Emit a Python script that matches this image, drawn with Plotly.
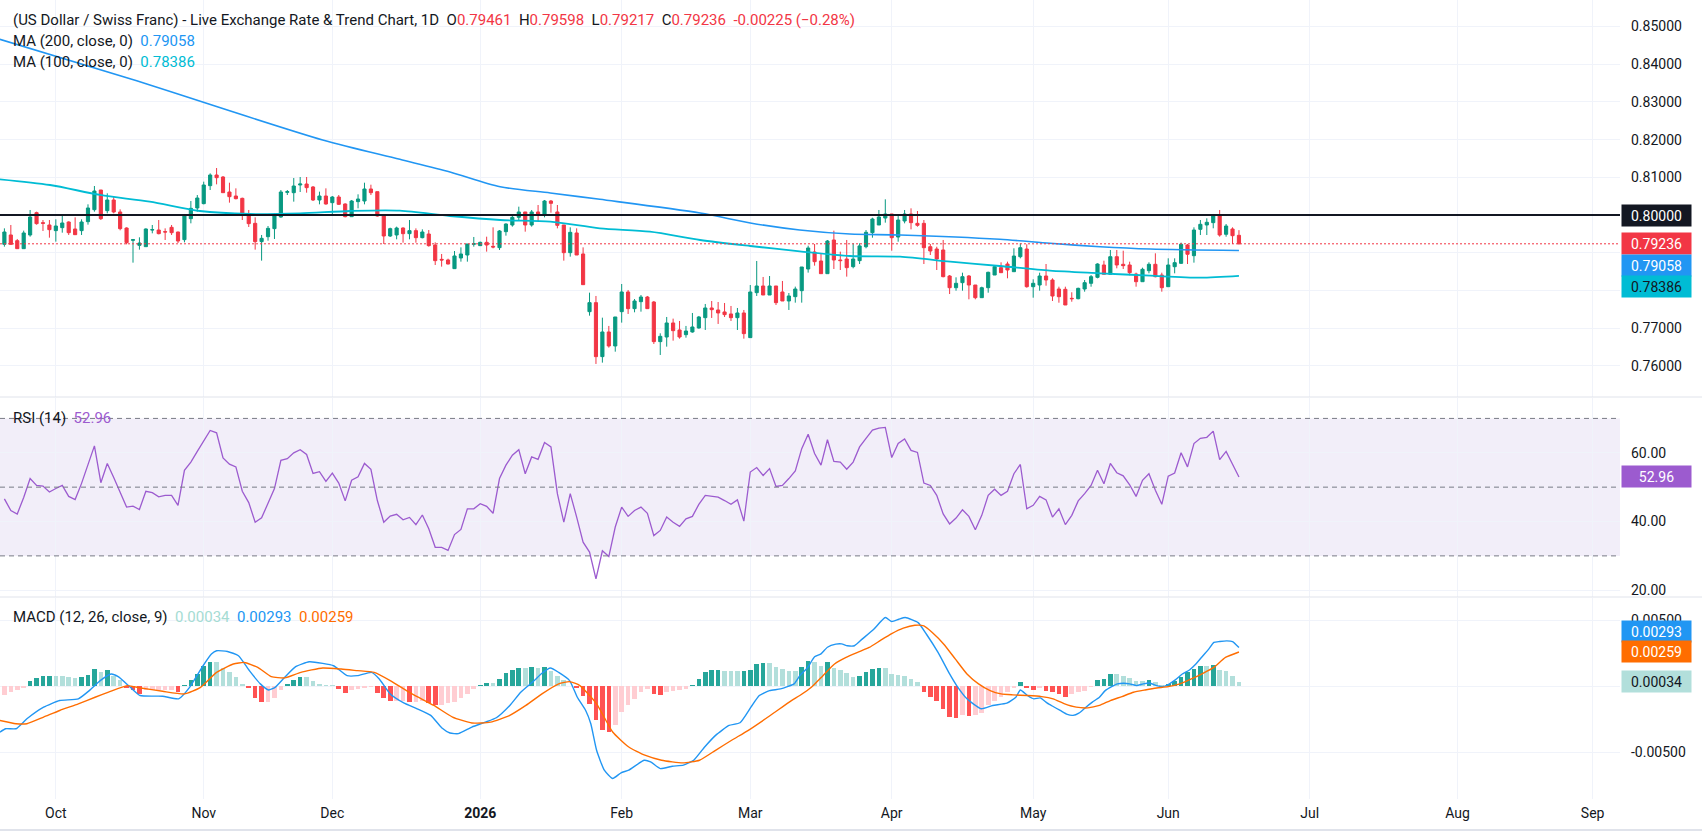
import plotly.graph_objects as go
import pandas as pd

# ---------------- data ----------------
open_ = [0.79222,0.79470,0.79319,0.79107,0.79470,0.80062,0.79797,0.79735,0.79585,0.79664,
 0.79814,0.79629,0.79585,0.79823,0.80141,0.80663,0.80115,0.80398,0.80080,0.79655,
 0.79328,0.79196,0.79160,0.79602,0.79602,0.79558,0.79673,0.79549,0.79346,0.79903,
 0.80186,0.80301,0.80778,0.81061,0.81008,0.80610,0.80504,0.80442,0.80027,0.79779,
 0.79293,0.79425,0.79638,0.79947,0.80601,0.80592,0.80796,0.80822,0.80743,0.80398,
 0.80504,0.80327,0.80477,0.80292,0.79956,0.80354,0.80371,0.80690,0.80619,0.80009,
 0.79443,0.79470,0.79655,0.79505,0.79585,0.79399,0.79496,0.79204,0.78824,0.78807,
 0.78577,0.78860,0.78939,0.79222,0.79187,0.79275,0.79169,0.79134,0.79558,0.79735,
 0.79938,0.80080,0.79735,0.80080,0.80000,0.80371,0.80080,0.79735,0.79001,0.79523,
 0.78966,0.77436,0.77675,0.76243,0.76897,0.76526,0.77436,0.77958,0.77516,0.77701,
 0.77825,0.77692,0.76641,0.76764,0.77136,0.76950,0.76826,0.76897,0.77003,0.77277,
 0.77534,0.77481,0.77428,0.77375,0.77277,0.77401,0.76747,0.77940,0.78117,0.77878,
 0.78117,0.77958,0.77719,0.77834,0.77993,0.78568,0.79019,0.78780,0.78444,0.79337,
 0.78807,0.78833,0.78630,0.78789,0.79159,0.79531,0.79735,0.79920,0.80027,0.79416,
 0.79841,0.80027,0.79779,0.79779,0.79159,0.79098,0.79072,0.78382,0.78072,0.78205,
 0.78382,0.78143,0.77807,0.78072,0.78408,0.78603,0.78700,0.78496,0.78894,0.79098,
 0.78098,0.78143,0.78382,0.78276,0.78037,0.78029,0.77790,0.77780,0.78037,0.78188,
 0.78347,0.78674,0.78427,0.78894,0.78692,0.78674,0.78435,0.78231,0.78523,0.78692,
 0.78408,0.78098,0.78629,0.78718,0.79204,0.78921,0.79620,0.79735,0.79797,0.79973,
 0.79488,0.79629,0.79461]
high_ = [0.79646,0.79735,0.79364,0.79585,0.80133,0.80088,0.79867,0.79867,0.79885,0.80000,
 0.79832,0.79938,0.79885,0.80283,0.80769,0.80663,0.80575,0.80504,0.80150,0.79673,
 0.79364,0.79408,0.79646,0.79735,0.79867,0.79646,0.79735,0.79558,0.80027,0.80371,
 0.80530,0.80884,0.81105,0.81246,0.81034,0.80857,0.80707,0.80460,0.80133,0.79938,
 0.79470,0.79708,0.80044,0.80663,0.80663,0.80981,0.81008,0.81008,0.80769,0.80619,
 0.80707,0.80504,0.80530,0.80309,0.80398,0.80548,0.80857,0.80804,0.80619,0.80027,
 0.79664,0.79691,0.79673,0.79867,0.79646,0.79620,0.79602,0.79275,0.78966,0.78842,
 0.79045,0.79142,0.79231,0.79417,0.79293,0.79425,0.79673,0.79602,0.79779,0.80000,
 0.80221,0.80080,0.80133,0.80265,0.80398,0.80398,0.80265,0.79735,0.79673,0.79646,
 0.79142,0.77940,0.77852,0.77277,0.77057,0.77295,0.78170,0.78011,0.77772,0.77878,
 0.77852,0.77719,0.76862,0.77295,0.77251,0.77189,0.77057,0.77401,0.77322,0.77640,
 0.77719,0.77692,0.77666,0.77587,0.77534,0.77481,0.78143,0.78780,0.78356,0.78382,
 0.78117,0.78250,0.77931,0.78100,0.78621,0.79187,0.79231,0.78983,0.79337,0.79584,
 0.79028,0.79337,0.79249,0.79249,0.79602,0.79928,0.80133,0.80416,0.80027,0.80000,
 0.80133,0.80177,0.80106,0.79867,0.79231,0.79159,0.79337,0.78408,0.78347,0.78470,
 0.78408,0.78143,0.78098,0.78496,0.78666,0.78745,0.78762,0.79117,0.79249,0.79223,
 0.78294,0.78470,0.78700,0.78321,0.78098,0.78098,0.77950,0.78072,0.78276,0.78408,
 0.78718,0.78788,0.79072,0.79072,0.79053,0.78762,0.78470,0.78603,0.78745,0.78984,
 0.78470,0.78851,0.78851,0.79266,0.79231,0.79673,0.79867,0.79912,0.80027,0.80133,
 0.79761,0.79673,0.79598]
low_ = [0.79160,0.79204,0.79107,0.79107,0.79425,0.79744,0.79576,0.79399,0.79293,0.79531,
 0.79470,0.79470,0.79470,0.79744,0.80088,0.79867,0.80044,0.80044,0.79593,0.79222,
 0.78736,0.79081,0.79160,0.79514,0.79487,0.79337,0.79470,0.79257,0.79275,0.79779,
 0.80088,0.80283,0.80663,0.80813,0.80592,0.80327,0.80415,0.79867,0.79682,0.79081,
 0.78789,0.79319,0.79364,0.79929,0.80530,0.80354,0.80610,0.80592,0.80371,0.80283,
 0.80274,0.79973,0.80265,0.79938,0.79947,0.80177,0.80283,0.80530,0.79956,0.79231,
 0.79417,0.79355,0.79266,0.79355,0.79266,0.79381,0.79160,0.78674,0.78630,0.78691,
 0.78568,0.78762,0.78762,0.79160,0.79187,0.79028,0.79116,0.79072,0.79452,0.79691,
 0.79867,0.79558,0.79691,0.79841,0.79938,0.80062,0.79646,0.78789,0.78895,0.78939,
 0.78144,0.77330,0.76049,0.76084,0.76482,0.76375,0.77145,0.77375,0.77419,0.77436,
 0.77516,0.76579,0.76287,0.76508,0.76667,0.76720,0.76746,0.76879,0.76986,0.76950,
 0.77269,0.77110,0.77295,0.77189,0.76950,0.76720,0.76747,0.77852,0.77878,0.77878,
 0.77613,0.77719,0.77481,0.77675,0.77675,0.78471,0.78656,0.78444,0.78444,0.78568,
 0.78541,0.78365,0.78586,0.78700,0.79117,0.79398,0.79735,0.79797,0.79053,0.79292,
 0.79779,0.79620,0.79690,0.78700,0.78939,0.78541,0.78347,0.77904,0.77992,0.77992,
 0.77764,0.77764,0.77807,0.77939,0.78408,0.78470,0.78321,0.78496,0.78851,0.78072,
 0.77807,0.77992,0.78125,0.77719,0.77674,0.77613,0.77700,0.77764,0.77966,0.78098,
 0.78321,0.78427,0.78427,0.78586,0.78568,0.78400,0.78098,0.78231,0.78453,0.78347,
 0.77966,0.78098,0.78453,0.78700,0.78700,0.78736,0.79469,0.79469,0.79647,0.79425,
 0.79425,0.79231,0.79217]
close_ = [0.79549,0.79222,0.79107,0.79523,0.79947,0.79770,0.79779,0.79611,0.79708,0.79788,
 0.79531,0.79478,0.79814,0.80186,0.80636,0.79903,0.80398,0.80080,0.79638,0.79266,
 0.79346,0.79257,0.79629,0.79611,0.79505,0.79549,0.79531,0.79310,0.80000,0.80177,
 0.80451,0.80796,0.81061,0.80990,0.80592,0.80486,0.80433,0.80000,0.79770,0.79293,
 0.79381,0.79646,0.79982,0.80610,0.80619,0.80769,0.80822,0.80725,0.80398,0.80504,
 0.80292,0.80477,0.80283,0.79956,0.80371,0.80424,0.80690,0.80592,0.79973,0.79443,
 0.79638,0.79655,0.79505,0.79585,0.79399,0.79549,0.79187,0.78789,0.78807,0.78700,
 0.78913,0.78966,0.79231,0.79240,0.79275,0.79204,0.79151,0.79576,0.79761,0.79938,
 0.80080,0.79735,0.80080,0.80000,0.80371,0.80309,0.79726,0.79001,0.79540,0.78939,
 0.78152,0.77675,0.76243,0.76897,0.76526,0.77295,0.77958,0.77516,0.77719,0.77825,
 0.77516,0.76641,0.76782,0.77136,0.76932,0.76764,0.76923,0.77030,0.77295,0.77534,
 0.77489,0.77401,0.77357,0.77277,0.77401,0.76853,0.77958,0.78117,0.77878,0.78117,
 0.77675,0.77719,0.77852,0.78037,0.78621,0.79125,0.78762,0.78444,0.79310,0.78806,
 0.78790,0.78603,0.78833,0.79180,0.79541,0.79894,0.79947,0.80027,0.79398,0.79867,
 0.80027,0.79797,0.79727,0.79133,0.79045,0.78833,0.78364,0.78072,0.78188,0.78364,
 0.78143,0.77807,0.78072,0.78480,0.78629,0.78470,0.78541,0.78912,0.79133,0.78098,
 0.78188,0.78382,0.78276,0.77851,0.77833,0.77613,0.77780,0.78055,0.78205,0.78364,
 0.78700,0.78427,0.78894,0.78674,0.78656,0.78470,0.78231,0.78560,0.78692,0.78364,
 0.78072,0.78674,0.78736,0.79223,0.78958,0.79602,0.79753,0.79806,0.79973,0.79469,
 0.79708,0.79451,0.79236]

first_bar_date = "2025-09-19"
tick_dates = ["2025-10-01","2025-11-03","2025-12-01","2026-01-01","2026-02-02","2026-03-02",
              "2026-04-01","2026-05-01","2026-06-01","2026-07-01","2026-08-03","2026-09-01"]
tick_labels = ["Oct","Nov","Dec","<b>2026</b>","Feb","Mar","Apr","May","Jun","Jul","Aug","Sep"]

ma200_idx = [-0.7,19.8,49.5,61.5,69.3,77.1,84.9,92.6,108.2,116.0,123.7,131.5,139.3,154.8,162.6,170.4,178.2,192]
ma200_val = [0.84660,0.83599,0.81989,0.81477,0.81141,0.80751,0.80584,0.80416,0.80053,0.79788,
             0.79602,0.79496,0.79469,0.79355,0.79249,0.79159,0.79098,0.79058]
ma100_idx = [-0.7,7.1,14.9,22.6,30.4,38.2,46.0,53.8,61.5,69.3,77.1,84.9,92.6,100.4,108.2,116.0,
             123.7,131.5,139.3,147.1,154.8,162.6,170.4,178.2,186.0,192]
ma100_val = [0.80947,0.80796,0.80531,0.80353,0.80106,0.80027,0.80045,0.80106,0.80114,0.79973,
             0.79867,0.79822,0.79647,0.79557,0.79337,0.79178,0.79037,0.78912,0.78894,0.78761,
             0.78647,0.78523,0.78454,0.78390,0.78337,0.78386]

rsi_val = [46.6,43.2,42.2,47.0,52.5,50.5,50.3,48.6,49.6,50.5,47.3,46.4,51.1,56.3,62.0,51.3,56.9,52.8,48.7,44.2,
 44.5,43.5,48.8,48.4,47.2,47.6,47.6,44.7,54.9,57.3,60.4,63.5,66.5,65.8,58.5,56.7,55.9,48.8,45.5,39.8,
 41.1,45.3,49.6,57.8,58.3,60.0,60.9,59.5,54.0,54.5,51.7,54.1,51.2,46.0,52.0,53.0,56.9,55.2,46.1,39.8,
 41.6,42.1,40.5,41.2,39.1,41.9,37.9,32.5,32.5,31.6,36.2,37.7,43.7,43.7,45.2,44.4,42.4,52.5,56.4,59.3,
 60.9,53.9,58.8,58.1,63.0,61.7,48.1,39.8,48.1,41.3,34.0,31.1,23.3,31.5,29.8,38.4,44.2,41.5,43.2,44.2,
 42.4,35.9,37.4,41.3,39.8,38.6,40.8,41.5,45.0,47.6,47.3,47.1,46.1,45.0,46.3,40.1,54.4,55.7,53.4,55.4,
 50.2,50.5,52.5,54.7,61.2,65.4,59.8,56.4,63.8,57.5,57.3,55.2,57.3,61.7,64.2,66.6,67.2,67.4,58.6,62.7,
 64.0,60.7,60.1,51.2,50.5,47.6,42.2,39.3,41.0,43.4,41.5,37.6,41.8,47.6,49.4,47.6,48.8,53.9,56.6,43.7,
 44.7,47.3,46.3,41.3,43.7,39.1,41.8,46.0,48.1,50.5,54.9,51.0,56.9,54.2,53.3,50.7,47.3,52.0,53.9,49.1,
 45.0,53.2,54.1,60.0,55.9,62.7,64.2,64.5,66.3,58.0,60.4,56.9,52.96]

macd_idx = [-0.7,0.2,1.8,3.5,6.1,8.6,11.5,13.2,14.9,16.6,17.7,19.6,21.1,24.6,27.1,28.8,30.9,32.2,33.0,34.7,
 36.4,38.1,39.8,41.1,42.1,43.6,45.3,47.4,49.5,51.2,53.3,54.9,57.1,58.3,60.0,62.1,64.2,66.3,68.0,69.3,
 70.6,72.7,74.8,76.5,78.6,80.3,82.4,83.6,84.9,86.2,87.9,89.1,90.4,91.2,92.1,93.3,94.6,95.9,97.1,99.5,
 100.5,102.0,103.9,105.6,107.2,108.9,110.6,112.7,114.4,116.1,117.4,119.0,120.7,122.8,123.7,124.9,126.0,127.0,128.0,129.3,
 130.2,131.1,132.2,133.4,135.2,137.0,138.0,139.1,140.1,142.1,143.4,145.2,147.0,148.1,149.7,151.9,153.7,155.9,157.3,158.0,
 159.1,160.1,161.1,162.2,163.1,164.2,165.3,166.2,167.1,168.2,169.2,170.3,171.2,172.2,173.1,174.1,175.0,176.1,177.1,178.1,
 179.2,180.1,181.0,182.1,183.2,184.3,185.3,186.4,187.3,188.1,189.0,190.1,191.0,192.0]
macd_val = [-0.00346,-0.00321,-0.00321,-0.00246,-0.00158,-0.00108,-0.00095,-0.00033,0.00043,0.00093,0.00073,-0.00008,-0.0007,-0.00075,-0.00095,-0.00008,0.00155,0.00243,0.00268,0.00263,
 0.00231,0.00118,0.00018,-0.00028,-0.00008,0.00068,0.00148,0.00185,0.00173,0.00155,0.0008,0.0008,0.00105,0.00055,-0.00058,-0.00125,-0.0017,-0.0022,-0.00313,-0.00353,
 -0.00358,-0.00308,-0.00271,-0.00238,-0.00145,-0.00045,0.00043,0.00098,0.00138,0.00105,0.00043,-0.00083,-0.00183,-0.00283,-0.00484,-0.00634,-0.00697,-0.00654,-0.00634,-0.00559,
 -0.00571,-0.00622,-0.00604,-0.00596,-0.00559,-0.00459,-0.00371,-0.00296,-0.00276,-0.00158,-0.0007,-0.00033,-0.0002,0.00018,0.0008,0.0014,0.00223,0.00245,0.00295,0.00318,
 0.0032,0.00306,0.00306,0.00356,0.00431,0.00519,0.00489,0.00506,0.00519,0.00481,0.00393,0.00256,0.00093,0.00005,-0.00095,-0.0017,-0.00145,-0.00128,-0.00083,-0.00028,
 -0.0007,-0.00095,-0.00088,-0.00128,-0.00153,-0.00183,-0.00213,-0.0022,-0.00203,-0.00158,-0.0012,-0.00083,-0.00033,-0.00003,0.00018,0.00023,0.00018,0.00005,0.00018,0.00025,
 0.00005,-0.00003,0.00013,0.00048,0.00093,0.00123,0.00168,0.00231,0.00281,0.00331,0.00338,0.00343,0.00338,0.00293]
signal_idx = [-0.7,1.8,3.5,6.1,8.6,11.5,14.1,16.2,19.1,21.2,24.6,28.0,30.5,33.0,35.6,37.3,39.4,41.5,43.6,46.1,
 49.5,52.4,54.9,57.5,60.0,63.4,66.8,69.7,72.7,75.6,78.6,81.1,83.6,86.2,87.9,89.5,92.1,94.6,97.1,99.6,
 102.2,105.5,108.1,110.6,113.1,115.7,119.1,122.4,123.7,125.5,127.3,129.1,130.9,132.7,134.5,136.3,138.0,139.8,141.6,143.0,
 144.3,146.1,147.9,149.7,151.5,153.3,155.0,156.8,159.1,161.3,163.1,164.9,166.7,168.5,170.3,172.0,173.8,175.6,177.4,179.2,
 181.0,182.8,184.6,186.4,188.1,189.9,192.0]
signal_val = [-0.00258,-0.00283,-0.00283,-0.00233,-0.00183,-0.00133,-0.00083,-0.00045,0.00005,-0.00013,-0.00038,-0.00058,-0.00008,0.00105,0.00168,0.0018,0.00143,0.00073,0.00063,0.00105,
 0.00138,0.0013,0.00118,0.00105,0.00043,-0.00058,-0.00145,-0.00233,-0.00278,-0.00271,-0.0022,-0.00145,-0.00058,0.00018,0.00035,0.00005,-0.00133,-0.00346,-0.00459,-0.00521,
 -0.00559,-0.00579,-0.00559,-0.00484,-0.00408,-0.00333,-0.00221,-0.00108,-0.0007,-0.00008,0.0008,0.00168,0.00218,0.00256,0.00293,0.00348,0.00398,0.00439,0.00461,0.00456,
 0.00406,0.00318,0.00205,0.00093,0.00018,-0.00033,-0.00058,-0.00065,-0.0007,-0.00078,-0.00095,-0.00133,-0.00158,-0.00163,-0.00145,-0.00108,-0.00078,-0.00045,-0.00028,-0.00013,
 -0.00003,0.00018,0.00055,0.00098,0.00143,0.00218,0.00259]
hist_val = [-0.00063,-0.00045,-0.0003,-0.0001,0.0004,0.00065,0.00075,0.00078,0.00078,0.00078,
 0.0007,0.00062,0.0007,0.00085,0.0013,0.00105,0.0012,0.0008,0.0005,-0.0001,
 -0.0003,-0.0006,-0.0003,-0.0003,-0.0003,-0.0003,-0.00028,-0.0004,0.0001,0.0005,
 0.0009,0.0015,0.0018,0.0018,0.0014,0.0011,0.0007,0.0002,-0.0001,-0.0009,
 -0.0012,-0.0012,-0.0009,-0.0003,0.0002,0.0005,0.0007,0.0007,0.0004,0.0002,
 0.0001,0.0001,-0.0002,-0.0005,-0.0003,-0.0002,-0.00015,-0.00005,-0.0005,-0.0009,
 -0.0011,-0.0011,-0.0011,-0.0012,-0.0012,-0.0011,-0.0013,-0.0014,-0.0014,-0.0013,
 -0.0012,-0.0009,-0.0006,-0.0002,0.0001,0.00028,0.00028,0.00055,0.00098,0.00123,
 0.00138,0.00138,0.00143,0.00138,0.00143,0.00113,0.0008,0.00048,0.00005,-0.00015,
 -0.0007,-0.00133,-0.00258,-0.00333,-0.00346,-0.00296,-0.00195,-0.00145,-0.00095,-0.00045,
 -0.0002,-0.00058,-0.00063,-0.0004,-0.00033,-0.00028,-0.0002,0.00013,0.00055,0.00105,
 0.00123,0.00125,0.00118,0.00118,0.00113,0.00118,0.00125,0.00168,0.00173,0.00173,
 0.00148,0.0013,0.00118,0.00118,0.00148,0.0019,0.00185,0.00155,0.0018,0.0014,
 0.0012,0.00098,0.00073,0.0008,0.00105,0.0013,0.00138,0.00138,0.00093,0.00085,
 0.0008,0.00055,0.0003,-0.0004,-0.00078,-0.00108,-0.0017,-0.00233,-0.0024,-0.0022,
 -0.00228,-0.0022,-0.00203,-0.00145,-0.00113,-0.00083,-0.00045,-0.00015,0.00035,-0.00013,
 -0.00025,-0.00015,-0.00033,-0.00045,-0.00058,-0.00083,-0.00058,-0.00045,-0.00033,-0.00003,
 0.00048,0.00055,0.00093,0.00093,0.0008,0.00063,0.00043,0.00043,0.00048,0.0003,
 0.00013,0.00018,0.00043,0.00073,0.00105,0.0013,0.00155,0.00155,0.00163,0.00125,
 0.00118,0.00075,0.00034]

level_line = 0.80000
day_change = -0.00225
day_change_pct = "\u22120.28%"
price_ticks = [0.76,0.77,0.78,0.79,0.80,0.81,0.82,0.83,0.84,0.85]
price_hidden = [0.78,0.79,0.80]      # covered by the value tags in the reference
rsi_ticks = [20,40,60]
macd_ticks = [-0.005,0.0,0.005]
macd_hidden = [0.0]

# ---------------- styling ----------------
FONT = "Roboto, 'Liberation Sans', sans-serif"
TXT = "#131722"
UP, DOWN = "#089981", "#F23645"
GRID = "#F0F3FA"
W, H = 1702, 835
ML, MR, MT, MB = 0, 82, 0, 36
PW, PH = W - ML - MR, H - MT - MB

def py(ypx):
    return (PH - ypx) / PH

def pxx(xpx):
    return xpx / PW

n = len(close_)
xs = list(range(n))
bdays = pd.bdate_range(first_bar_date, "2026-09-30")
tick_idx = [int(bdays.get_loc(pd.Timestamp(d))) for d in tick_dates]
x_range = [-0.684, 251.26]

fig = go.Figure()

fig.add_trace(go.Scatter(x=ma200_idx, y=ma200_val, mode="lines", line=dict(color="#2196F3", width=1.6, shape="spline", smoothing=0.8),
                         xaxis="x", yaxis="y", hoverinfo="skip"))
fig.add_trace(go.Scatter(x=ma100_idx, y=ma100_val, mode="lines", line=dict(color="#00BCD4", width=1.8, shape="spline", smoothing=0.8),
                         xaxis="x", yaxis="y", hoverinfo="skip"))
fig.add_trace(go.Candlestick(x=xs, open=open_, high=high_, low=low_, close=close_,
                             increasing=dict(line=dict(color=UP, width=1), fillcolor=UP),
                             decreasing=dict(line=dict(color=DOWN, width=1), fillcolor=DOWN),
                             xaxis="x", yaxis="y", hoverinfo="skip"))

fig.add_trace(go.Scatter(x=xs, y=rsi_val, mode="lines", line=dict(color="#9C5BCF", width=1.3),
                         xaxis="x2", yaxis="y2", hoverinfo="skip"))

hcol = []
prev = None
for h in hist_val:
    if h >= 0:
        hcol.append("#26A69A" if (prev is None or h > prev) else "#B2DFDB")
    else:
        hcol.append("#FF5252" if (prev is not None and h < prev) else "#FFCDD2")
    prev = h
fig.add_trace(go.Bar(x=xs, y=hist_val, marker=dict(color=hcol, line=dict(width=0)), width=0.72,
                     xaxis="x3", yaxis="y3", hoverinfo="skip"))
fig.add_trace(go.Scatter(x=macd_idx, y=macd_val, mode="lines", line=dict(color="#2196F3", width=1.4, shape="spline", smoothing=0.5),
                         xaxis="x3", yaxis="y3", hoverinfo="skip"))
fig.add_trace(go.Scatter(x=signal_idx, y=signal_val, mode="lines", line=dict(color="#FF6D00", width=1.4, shape="spline", smoothing=0.5),
                         xaxis="x3", yaxis="y3", hoverinfo="skip"))

tickfont = dict(family=FONT, size=14, color=TXT)
xcommon = dict(range=x_range, tickvals=tick_idx, ticktext=tick_labels, showgrid=True, gridcolor=GRID,
               zeroline=False, showline=False, ticks="", fixedrange=True)
ycommon = dict(side="right", showgrid=True, gridcolor=GRID, zeroline=False, showline=False, ticks="",
               tickfont=tickfont, ticklabelstandoff=10, fixedrange=True)

fig.update_layout(
    width=W, height=H, margin=dict(l=ML, r=MR, t=MT, b=MB),
    paper_bgcolor="white", plot_bgcolor="white", showlegend=False,
    font=dict(family=FONT, color=TXT, size=14),
    xaxis=dict(**xcommon, domain=[0, 1], anchor="y", showticklabels=False, rangeslider=dict(visible=False)),
    xaxis2=dict(**xcommon, domain=[0, 1], anchor="y2", showticklabels=False, matches="x"),
    xaxis3=dict(**xcommon, domain=[0, 1], anchor="y3", showticklabels=True, matches="x",
                tickfont=tickfont, ticklabelstandoff=4),
    yaxis=dict(**ycommon, domain=[py(397), 1], range=[0.751724, 0.857029],
               tickvals=price_ticks,
               ticktext=["" if any(abs(v - h) < 1e-9 for h in price_hidden) else f"{v:.5f}" for v in price_ticks]),
    yaxis2=dict(**ycommon, domain=[py(597), py(398)], range=[18.04, 75.94],
                tickvals=rsi_ticks, ticktext=[f"{v:.2f}" for v in rsi_ticks]),
    yaxis3=dict(**ycommon, domain=[0, py(598)], range=[-0.008519, 0.006669],
                tickvals=macd_ticks,
                ticktext=["" if any(abs(v - h) < 1e-12 for h in macd_hidden) else f"{v:.5f}" for v in macd_ticks]),
    bargap=0,
)

shapes = []
shapes.append(dict(type="rect", xref="x2 domain", yref="y2", x0=0, x1=1, y0=30, y1=70,
                   fillcolor="rgba(126,87,194,0.10)", line=dict(width=0), layer="below"))
for lv in (70, 50, 30):
    shapes.append(dict(type="line", xref="x2 domain", yref="y2", x0=0, x1=1, y0=lv, y1=lv,
                       line=dict(color="#787B86", width=1, dash="5px,4px")))
shapes.append(dict(type="line", xref="x domain", yref="y", x0=0, x1=1, y0=level_line, y1=level_line,
                   line=dict(color="#131722", width=2)))
shapes.append(dict(type="line", xref="x domain", yref="y", x0=0, x1=1, y0=close_[-1], y1=close_[-1],
                   line=dict(color="#F23645", width=1, dash="2px,2px")))
for ysep in (397, 597):
    shapes.append(dict(type="line", xref="paper", yref="paper", x0=0, x1=W / PW, y0=py(ysep), y1=py(ysep),
                       line=dict(color="#E0E3EB", width=1)))
shapes.append(dict(type="line", xref="paper", yref="paper", x0=0, x1=W / PW, y0=py(830), y1=py(830),
                   line=dict(color="#E0E3EB", width=2)))
fig.update_layout(shapes=shapes)

ann = []
def tag(yref, yval, text, bg, fg, yshift=0):
    ann.append(dict(xref="paper", x=1, xanchor="left", xshift=1, yref=yref, y=yval, yanchor="middle",
                    yshift=yshift, text=text, showarrow=False, bgcolor=bg, borderpad=2,
                    width=65, height=17, align="center", font=dict(family=FONT, size=14, color=fg)))

tag("y", level_line, f"{level_line:.5f}", "#131722", "white")
tag("y", close_[-1], f"{close_[-1]:.5f}", "#F23645", "white")
tag("y", ma200_val[-1], f"{ma200_val[-1]:.5f}", "#2196F3", "white", yshift=-14.7)
tag("y", ma100_val[-1], f"{ma100_val[-1]:.5f}", "#00BCD4", TXT, yshift=-10.4)
tag("y2", rsi_val[-1], f"{rsi_val[-1]:.2f}", "#9C5BCF", "white")
tag("y3", macd_val[-1], f"{macd_val[-1]:.5f}", "#2196F3", "white", yshift=15.7)
tag("y3", signal_val[-1], f"{signal_val[-1]:.5f}", "#FF6D00", "white")
tag("y3", hist_val[-1], f"{hist_val[-1]:.5f}", "#B2DFDB", TXT)

LEG = 15
def legend(ypx, text):
    ann.append(dict(xref="paper", yref="paper", x=pxx(11), y=py(ypx), xanchor="left", yanchor="middle",
                    text=text, showarrow=False, align="left", font=dict(family=FONT, size=LEG, color=TXT)))

sp = "\u00a0\u00a0"
red = lambda s: f"<span style='color:#F23645'>{s}</span>"
title = ("(US Dollar / Swiss Franc) - Live Exchange Rate &amp; Trend Chart, 1D" + sp +
         "O" + red(f"{open_[-1]:.5f}") + sp + "H" + red(f"{high_[-1]:.5f}") + sp +
         "L" + red(f"{low_[-1]:.5f}") + sp + "C" + red(f"{close_[-1]:.5f}") + sp +
         red(f"{day_change:.5f} ({day_change_pct})"))
legend(19.5, title)
legend(40.5, "MA (200, close, 0)" + sp + f"<span style='color:#2196F3'>{ma200_val[-1]:.5f}</span>")
legend(62, "MA (100, close, 0)" + sp + f"<span style='color:#00BCD4'>{ma100_val[-1]:.5f}</span>")
legend(418.3, "RSI (14)" + sp + f"<span style='color:#9C5BCF'>{rsi_val[-1]:.2f}</span>")
legend(616.7, "MACD (12, 26, close, 9)" + sp +
       f"<span style='color:#A5DCD3'>{hist_val[-1]:.5f}</span>" + sp +
       f"<span style='color:#2196F3'>{macd_val[-1]:.5f}</span>" + sp +
       f"<span style='color:#FF6D00'>{signal_val[-1]:.5f}</span>")
fig.update_layout(annotations=ann)

fig.write_html("out.html", config={"displayModeBar": False, "staticPlot": True})
